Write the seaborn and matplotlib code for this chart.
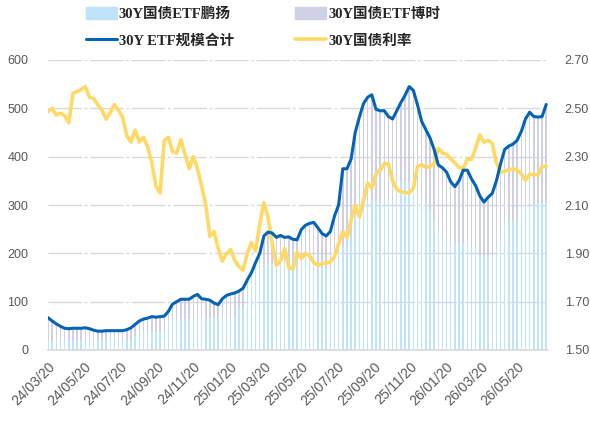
import pandas as pd
import matplotlib
matplotlib.use("Agg")
import matplotlib.pyplot as plt
from matplotlib.patches import Patch
from matplotlib.lines import Line2D
import seaborn as sns

# Data (weekly readings, 2024-03-20 onwards)

dates = pd.date_range("2024-03-20", periods=121, freq="7D")

total = [
    67, 60, 54, 49, 45, 44, 45, 45, 45, 46,
    44, 41, 39, 39, 40, 40, 40, 40, 40, 42,
    46, 53, 60, 64, 66, 69, 68, 69, 70, 80,
    95, 100, 105, 105, 105, 111, 115, 106, 105, 103,
    97, 94, 106, 113, 116, 118, 122, 128, 145, 160,
    181, 200, 236, 244, 242, 233, 237, 233, 234, 229,
    228, 249, 258, 262, 264, 253, 241, 236, 245, 277,
    300, 375, 375, 395, 450, 482, 510, 523, 528, 498,
    495, 495, 483, 478, 495, 512, 527, 545, 537, 507,
    473, 456, 439, 415, 383, 377, 368, 348, 338, 350,
    372, 372, 354, 340, 319, 306, 316, 324, 350, 385,
    415, 422, 426, 434, 452, 478, 492, 483, 482, 483,
    508,
]

pengyang = [
    20, 20, 20, 20, 20, 20, 20, 20, 20, 20,
    20, 22, 22, 22, 22, 22, 22, 22, 22, 22,
    22, 30, 33, 35, 36, 37, 38, 38, 38, 65,
    65, 65, 65, 65, 65, 68, 68, 68, 68, 68,
    68, 68, 68, 68, 68, 68, 90, 90, 130, 150,
    165, 178, 178, 178, 178, 178, 182, 182, 182, 182,
    182, 192, 192, 192, 192, 170, 170, 170, 170, 200,
    200, 214, 234, 234, 280, 300, 305, 310, 310, 310,
    310, 310, 310, 310, 350, 350, 350, 350, 350, 327,
    307, 307, 290, 269, 240, 240, 222, 222, 222, 222,
    222, 222, 214, 214, 195, 195, 195, 195, 210, 234,
    265, 265, 265, 265, 300, 300, 300, 305, 305, 305,
    305,
]

boshi = [
    47, 40, 34, 29, 25, 24, 25, 25, 25, 26,
    24, 19, 17, 17, 18, 18, 18, 18, 18, 20,
    24, 23, 27, 29, 30, 32, 30, 31, 32, 15,
    30, 35, 40, 40, 40, 43, 47, 38, 37, 35,
    29, 26, 38, 45, 48, 50, 32, 38, 15, 10,
    16, 22, 58, 66, 64, 55, 55, 51, 52, 47,
    46, 57, 66, 70, 72, 83, 71, 66, 75, 77,
    100, 161, 141, 161, 170, 182, 205, 213, 218, 188,
    185, 185, 173, 168, 145, 162, 177, 195, 187, 180,
    166, 149, 149, 146, 143, 137, 146, 126, 116, 128,
    150, 150, 140, 126, 124, 111, 121, 129, 140, 151,
    150, 157, 161, 169, 152, 178, 192, 178, 177, 178,
    203,
]

rate = [
    2.486, 2.500, 2.472, 2.480, 2.470, 2.440, 2.562, 2.569, 2.578, 2.590,
    2.545, 2.541, 2.514, 2.493, 2.455, 2.483, 2.515, 2.492, 2.462, 2.385,
    2.360, 2.410, 2.360, 2.380, 2.340, 2.275, 2.180, 2.150, 2.365, 2.380,
    2.320, 2.315, 2.370, 2.310, 2.250, 2.300, 2.250, 2.180, 2.100, 1.970,
    1.990, 1.920, 1.868, 1.900, 1.915, 1.870, 1.845, 1.830, 1.900, 1.945,
    1.910, 2.020, 2.110, 2.050, 1.940, 1.850, 1.870, 1.920, 1.840, 1.835,
    1.905, 1.878, 1.900, 1.890, 1.862, 1.850, 1.858, 1.860, 1.865, 1.885,
    1.940, 1.990, 1.965, 2.038, 2.100, 2.050, 2.120, 2.190, 2.170, 2.230,
    2.245, 2.272, 2.270, 2.200, 2.165, 2.155, 2.152, 2.150, 2.170, 2.260,
    2.267, 2.255, 2.260, 2.270, 2.335, 2.315, 2.310, 2.290, 2.275, 2.255,
    2.252, 2.290, 2.288, 2.335, 2.390, 2.360, 2.368, 2.355, 2.275, 2.235,
    2.240, 2.245, 2.250, 2.245, 2.228, 2.203, 2.228, 2.226, 2.224, 2.260,
    2.260,
]

tick_dates = pd.date_range("2024-03-20", "2026-05-20", freq=pd.DateOffset(months=2))
tick_labels = [d.strftime("%y/%m/%d") for d in tick_dates]

df = pd.DataFrame({
    "date": dates,
    "total": total,
    "pengyang": pengyang,
    "boshi": boshi,
    "rate": rate,
})

# Style

sns.set_style("white")
plt.rcParams["font.family"] = ["Liberation Sans", "Noto Sans CJK SC"]

c_py = "#bfe3f9"
c_bs = "#cfd0e3"
c_total = "#0563b5"
c_rate = "#ffd966"
grid_c = "#d9d9d9"
text_c = "#595959"

fig, ax = plt.subplots(figsize=(5.9, 4.25), dpi=100)
fig.subplots_adjust(left=48 / 590, right=548 / 590, top=1 - 60 / 425, bottom=1 - 350 / 425)

# Stacked bars

ax.bar(df["date"], df["pengyang"], width=2.5, color=c_py, linewidth=0)
ax.bar(df["date"], df["boshi"], bottom=df["pengyang"], width=2.5, color=c_bs, linewidth=0)

# Rate line (right axis)

ax2 = ax.twinx()
sns.lineplot(data=df, x="date", y="rate", ax=ax2, color=c_rate, linewidth=2.6)

# Total line (left scale, drawn on top)

ax3 = ax.twinx()
sns.lineplot(data=df, x="date", y="total", ax=ax3, color=c_total, linewidth=2.2)

ax.set_ylim(0, 600)
ax3.set_ylim(0, 600)
ax2.set_ylim(1.5, 2.7)
ax.set_xlim(pd.Timestamp("2024-03-20"), pd.Timestamp("2026-07-11"))

ax.set_yticks(range(0, 601, 100))
ax2.set_yticks([1.5, 1.7, 1.9, 2.1, 2.3, 2.5, 2.7])
ax2.set_yticklabels([f"{v:.2f}" for v in [1.5, 1.7, 1.9, 2.1, 2.3, 2.5, 2.7]])
ax3.set_yticks([])

ax.set_xticks(tick_dates)
ax.set_xticklabels(tick_labels, rotation=45, ha="right", rotation_mode="anchor")

for a in (ax, ax2, ax3):
    a.set_xlabel("")
    a.set_ylabel("")
    for s in a.spines.values():
        s.set_visible(False)

ax.spines["bottom"].set_visible(True)
ax.spines["bottom"].set_color(grid_c)
ax.spines["bottom"].set_linewidth(1.2)

ax.set_axisbelow(True)
ax.yaxis.grid(True, color=grid_c, linewidth=1, linestyle=(0, (24, 2, 2, 2)))
ax.xaxis.grid(False)
ax2.grid(False)
ax3.grid(False)

ax.tick_params(axis="x", length=4, width=1, color=grid_c, labelsize=10, labelcolor=text_c, pad=3)
ax.tick_params(axis="y", length=0, labelsize=9, labelcolor=text_c, pad=14)
ax2.tick_params(axis="y", length=0, labelsize=9, labelcolor=text_c, pad=12)

# Legend

handles = [
    Patch(color=c_py),
    Line2D([0], [0], color=c_total, linewidth=2.2),
    Patch(color=c_bs),
    Line2D([0], [0], color=c_rate, linewidth=2.6),
]
labels = ["30Y国债ETF鹏扬", "30Y ETF规模合计", "30Y国债ETF博时", "30Y国债利率"]

fig.legend(
    handles,
    labels,
    loc="upper left",
    bbox_to_anchor=(86 / 590, 1 - 7 / 425),
    ncol=2,
    frameon=False,
    prop={"family": ["Liberation Serif", "Noto Sans CJK SC"], "size": 10.5, "weight": "bold"},
    handlelength=2.1,
    handleheight=0.9,
    handletextpad=0.15,
    columnspacing=4.2,
    labelspacing=0.85,
    borderpad=0,
    borderaxespad=0,
)

plt.savefig("out.png", dpi=100)
